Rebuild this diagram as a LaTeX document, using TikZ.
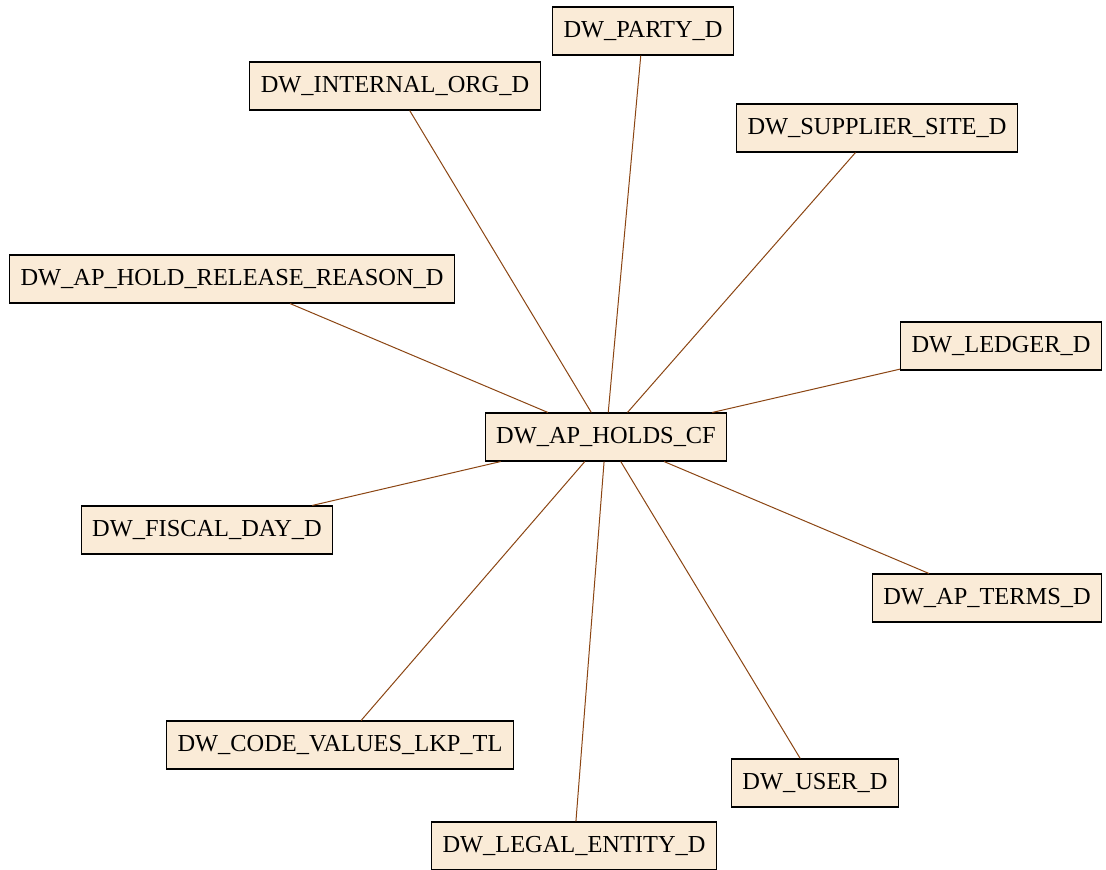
\documentclass[tikz,border=0pt]{standalone}
\usepackage{fontspec}
\setmainfont{Liberation Serif}
\definecolor{boxfill}{HTML}{FAEBD7}
\definecolor{edgecol}{HTML}{8B4513}
\begin{document}
\begin{tikzpicture}[x=1pt,y=-1pt,
  tbl/.style={draw=black,fill=boxfill,line width=1.1pt,inner xsep=11pt,inner ysep=0pt,minimum height=48pt,font=\fontsize{24.4}{24.4}\selectfont},
  rel/.style={draw=edgecol,line width=1pt}]
\useasboundingbox (0,0) rectangle (1106,870);
\node[tbl] (hub) at (606,437) {DW\_AP\_HOLDS\_CF};
\node[tbl] (party) at (643,31) {DW\_PARTY\_D};
\node[tbl] (intorg) at (395,86) {DW\_INTERNAL\_ORG\_D};
\node[tbl] (supp) at (877,128) {DW\_SUPPLIER\_SITE\_D};
\node[tbl] (hold) at (232,279) {DW\_AP\_HOLD\_RELEASE\_REASON\_D};
\node[tbl] (ledger) at (1001,346) {DW\_LEDGER\_D};
\node[tbl] (fiscal) at (207,530) {DW\_FISCAL\_DAY\_D};
\node[tbl] (terms) at (987,598) {DW\_AP\_TERMS\_D};
\node[tbl] (code) at (340,745) {DW\_CODE\_VALUES\_LKP\_TL};
\node[tbl] (user) at (815,783) {DW\_USER\_D};
\node[tbl] (legal) at (574,846) {DW\_LEGAL\_ENTITY\_D};
\foreach \n in {party,intorg,supp,hold,ledger,fiscal,terms,code,user,legal}
  \draw[rel] (hub) -- (\n);
\end{tikzpicture}
\end{document}
